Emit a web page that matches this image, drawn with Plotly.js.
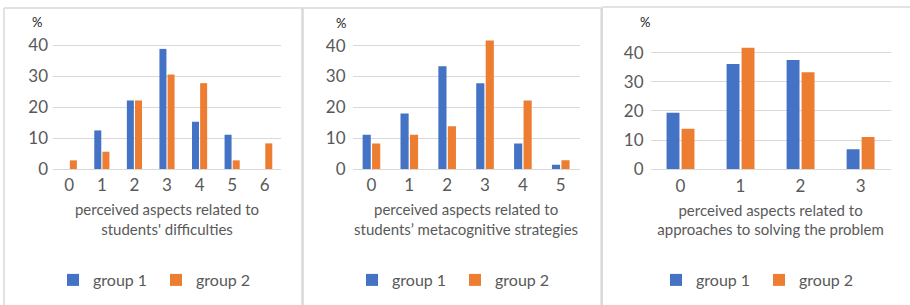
<!DOCTYPE html>
<html>
<head>
<meta charset="utf-8">
<script src="https://cdn.plot.ly/plotly-3.0.1.min.js"></script>
<style>html,body{margin:0;padding:0;background:#fff;}#chart{width:910px;height:305px;}</style>
</head>
<body>
<div id="chart"></div>
<script>
// Panel 1: perceived aspects related to students' difficulties
const cats1 = ["0", "1", "2", "3", "4", "5", "6"];
const g1_p1 = [0, 12.5, 22.2, 38.9, 15.3, 11.1, 0];
const g2_p1 = [2.8, 5.6, 22.2, 30.6, 27.8, 2.8, 8.3];
// Panel 2: perceived aspects related to students' metacognitive strategies
const cats2 = ["0", "1", "2", "3", "4", "5"];
const g1_p2 = [11.1, 18.0, 33.3, 27.8, 8.3, 1.4];
const g2_p2 = [8.3, 11.1, 13.9, 41.7, 22.2, 2.8];
// Panel 3: perceived aspects related to approaches to solving the problem
const cats3 = ["0", "1", "2", "3"];
const g1_p3 = [19.4, 36.1, 37.5, 6.9];
const g2_p3 = [13.9, 41.7, 33.3, 11.1];

const seriesNames = ["group 1", "group 2"];
const xTitles = [
  "perceived aspects related to<br>students' difficulties",
  "perceived aspects related to<br>students\u2019 metacognitive strategies",
  "perceived aspects related to<br>approaches to solving the problem"
];
const yTickVals = [0, 10, 20, 30, 40];

const BLUE = "#4472C4", ORANGE = "#ED7D31", TXT = "#595959", GRID = "#D9D9D9";
const FONT = "Lato, 'Open Sans', sans-serif";

function mk(cats, vals, name, color, ax, legend) {
  return {
    type: "bar", x: cats, y: vals, name: name,
    marker: {color: color},
    xaxis: "x" + ax, yaxis: "y" + ax, legend: legend,
    hoverinfo: "x+y"
  };
}
const data = [
  mk(cats1, g1_p1, seriesNames[0], BLUE, "", "legend"),
  mk(cats1, g2_p1, seriesNames[1], ORANGE, "", "legend"),
  mk(cats2, g1_p2, seriesNames[0], BLUE, "2", "legend2"),
  mk(cats2, g2_p2, seriesNames[1], ORANGE, "2", "legend2"),
  mk(cats3, g1_p3, seriesNames[0], BLUE, "3", "legend3"),
  mk(cats3, g2_p3, seriesNames[1], ORANGE, "3", "legend3")
];

const W = 910, H = 305;
function xa(l, r, title, n) {
  return {
    domain: [l / W, r / W], anchor: "y" + n, type: "category",
    showgrid: false, showline: true, linecolor: GRID, linewidth: 1,
    ticks: "", tickfont: {family: FONT, size: 17, color: TXT},
    ticklabelstandoff: 1, fixedrange: true,
    title: {text: title, font: {family: FONT, size: 15, color: TXT}, standoff: 10}
  };
}
function ya(bottom, top, n, standoff) {
  return {
    domain: [1 - bottom / H, 1 - top / H], anchor: "x" + n,
    range: [0, 45], tickvals: yTickVals, showgrid: true, gridcolor: GRID, gridwidth: 1,
    zeroline: false, showline: false, ticks: "",
    tickfont: {family: FONT, size: 17, color: TXT}, ticklabelstandoff: standoff,
    fixedrange: true
  };
}
function leg(x) {
  return {
    orientation: "h", x: x / W, xanchor: "left", y: 1 - 280 / H, yanchor: "middle",
    font: {family: FONT, size: 16, color: TXT}, bgcolor: "rgba(0,0,0,0)",
    entrywidth: 58, entrywidthmode: "pixels", tracegroupgap: 0
  };
}
const borderStyle = {color: GRID, width: 1.5};
function pct(x, y) {
  return {text: "%", x: x / W, y: 1 - y / H, xref: "paper", yref: "paper", xanchor: "center", yanchor: "middle",
    showarrow: false, font: {family: FONT, size: 13, color: "#1a1a1a"}};
}
const layout = {
  width: W, height: H, margin: {l: 0, r: 0, t: 0, b: 0},
  paper_bgcolor: "#fff", plot_bgcolor: "rgba(0,0,0,0)",
  barmode: "group", bargap: 0.5, bargroupgap: 0.14,
  font: {family: FONT, color: TXT},
  xaxis: xa(53, 281, xTitles[0], ""),
  yaxis: ya(169, 30.06, "", 4),
  xaxis2: xa(352.5, 579.7, xTitles[1], "2"),
  yaxis2: ya(169, 30.3, "2", 6),
  xaxis3: xa(650.5, 890.6, xTitles[2], "3"),
  yaxis3: ya(169.3, 38.1, "3", 6),
  legend: leg(53), legend2: leg(352), legend3: leg(656),
  annotations: [pct(37, 22), pct(341, 23), pct(645, 22)],
  shapes: [
    {type: "line", xref: "paper", yref: "paper", x0: 4 / W, x1: 4 / W, y0: 0, y1: 1 - 8 / H, line: borderStyle},
    {type: "line", xref: "paper", yref: "paper", x0: 4 / W, x1: 602 / W, y0: 1 - 8 / H, y1: 1 - 8 / H, line: borderStyle},
    {type: "line", xref: "paper", yref: "paper", x0: 302.5 / W, x1: 302.5 / W, y0: 0, y1: 1 - 8 / H, line: {color: GRID, width: 2.5}},
    {type: "line", xref: "paper", yref: "paper", x0: 601.7 / W, x1: 601.7 / W, y0: 0, y1: 1 - 8 / H, line: {color: GRID, width: 2.5}},
    {type: "line", xref: "paper", yref: "paper", x0: 601.7 / W, x1: 1, y0: 1 - 7 / H, y1: 1 - 7 / H, line: borderStyle}
  ]
};
Plotly.newPlot("chart", data, layout, {displayModeBar: false, staticPlot: true});
</script>
</body>
</html>
